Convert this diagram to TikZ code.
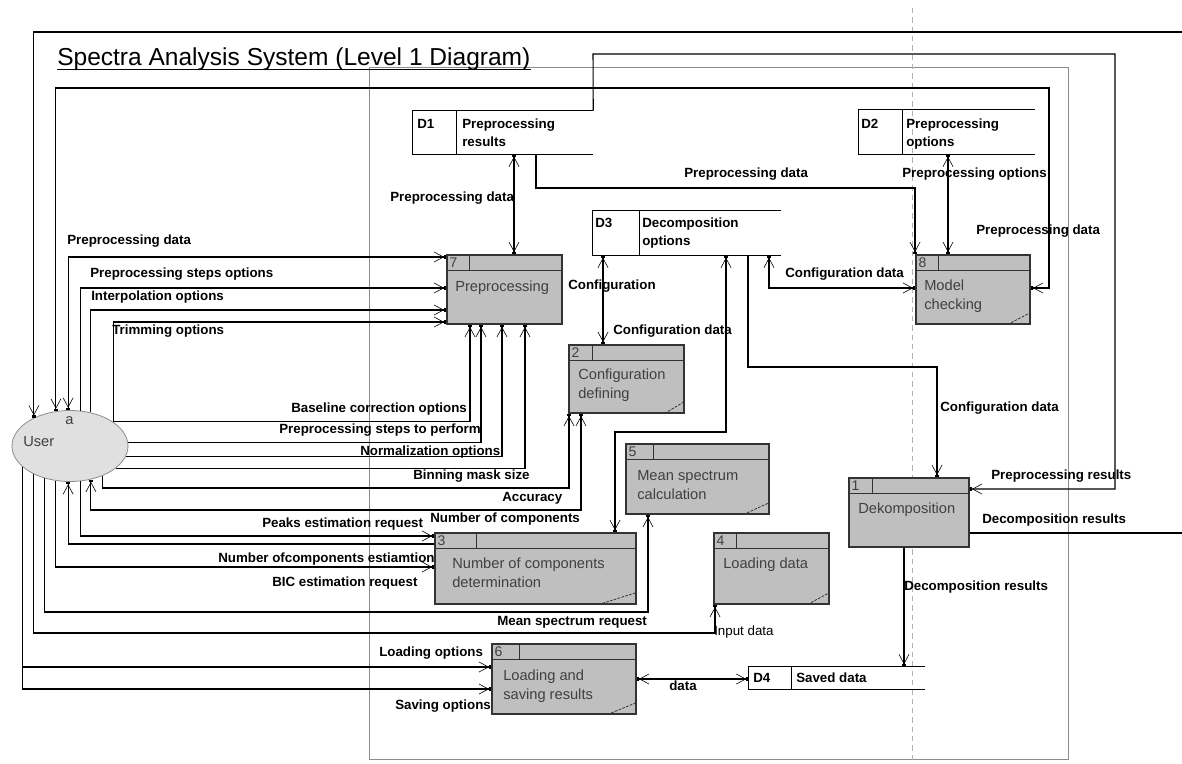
\documentclass[tikz,border=0pt]{standalone}
\usepackage{fontspec}
\setmainfont{Liberation Sans}
\usetikzlibrary{arrows.meta}
\usetikzlibrary{shapes.geometric}
\usetikzlibrary{fit}
\usetikzlibrary{calc}

\begin{document}
\begin{tikzpicture}[x=0.75pt,y=0.75pt,yscale=-1,xscale=1,
  dfd/.tip={Straight Barb[length=7pt,width=7.5pt,line width=0.45pt] Square[length=1.8pt,width=2.6pt]},
  flow/.style={line width=0.8pt,-dfd},
  flowb/.style={line width=0.8pt,dfd-dfd},
  proc/.style={draw=black!80,line width=0.8pt,fill=black!25,inner sep=0pt},
  store/.style={inner sep=0pt},
  ptext/.style={anchor=north west,inner sep=0.75pt,align=left,text=black!75,font=\fontsize{11}{14}\selectfont},
  ntext/.style={anchor=west,inner sep=0.75pt,text=black!75,font=\fontsize{10.5}{12}\selectfont},
  stext/.style={anchor=north west,inner sep=0.75pt,align=left,font=\fontsize{10}{13.5}\selectfont\bfseries},
  lbl/.style={anchor=west,inner sep=0.75pt,text height=7.2pt,text depth=2pt,font=\fontsize{10}{12}\selectfont\bfseries}
]
\useasboundingbox (0,0) rectangle (1182,764);

%Shape: Page frame
\draw[black!45,line width=0.6pt] (369,67) rectangle (1068,759);
\draw[black!30,line width=0.6pt,dash pattern=on 4pt off 3pt] (912,8) -- (912,764);

% Text Node: title
\node[anchor=base west,inner sep=0pt,font=\fontsize{18.4}{22}\selectfont] (title) at (57,65) {Spectra Analysis System (Level 1 Diagram)};
\draw[line width=0.7pt] ($(title.base west)+(0,4)$) -- ($(title.base east)+(0,4)$);

%Shape: Processes
\node[proc,fit={(447,255) (562,324)}] (P7) {};
\node[proc,fit={(569,345) (684,413)}] (P2) {};
\node[proc,fit={(626,444) (769,514)}] (P5) {};
\node[proc,fit={(435,533) (636,604)}] (P3) {};
\node[proc,fit={(714,533) (829,604)}] (P4) {};
\node[proc,fit={(849,478) (969,547)}] (P1) {};
\node[proc,fit={(916,255) (1030,324)}] (P8) {};
\node[proc,fit={(492,644) (636,714)}] (P6) {};

% headers
\foreach \p/\n/\d in {P7/7/23,P2/2/24,P5/5/28,P3/3/42,P4/4/23,P1/1/24,P8/8/23,P6/6/28}{
  \draw[black!80,line width=0.8pt] ($(\p.north west)+(0,16)$) -- ($(\p.north east)+(0,16)$)
    ($(\p.north west)+(\d,0)$) -- ($(\p.north west)+(\d,16)$);
  \node[ntext] (n\n) at ($(\p.north west)+(2,8.5)$) {\n};
}
\foreach \p/\w in {P2/20,P5/26,P3/38,P4/22,P8/23,P6/29}
  \draw[black!80,line width=0.6pt,dash pattern=on 2pt off 1pt] ($(\p.south east)+(-\w,0)$) -- ($(\p.south east)+(0,-12)$);

% Text Node: process names
\node[ptext] (t7) at (454,280) {Preprocessing};
\node[ptext] (t2) at (577,368) {Configuration\\defining};
\node[ptext] (t5) at (636,469) {Mean spectrum\\calculation};
\node[ptext] (t3) at (451,557) {Number of components\\determination};
\node[ptext] (t4) at (722,557) {Loading data};
\node[ptext] (t1) at (857,502) {Dekomposition};
\node[ptext] (t8) at (923,279) {Model\\checking};
\node[ptext] (t6) at (502,669) {Loading and\\saving results};

%Shape: Data stores
\node[store,fit={(413,111) (593,154)}] (D1) {};
\node[store,fit={(859,110) (1035,154)}] (D2) {};
\node[store,fit={(593,211) (781,255)}] (D3) {};
\node[store,fit={(749,667) (925,689)}] (D4) {};
\foreach \s/\d in {D1/44,D2/44,D3/47,D4/43}
  \draw[line width=0.8pt] (\s.north east) -- (\s.north west) -- (\s.south west) -- (\s.south east)
    ($(\s.north west)+(\d,0)$) -- ($(\s.south west)+(\d,0)$);

% Text Node: stores
\node[stext] (s1) at (416,118) {D1};
\node[stext] (s1t) at (461,118) {Preprocessing\\results};
\node[stext] (s2) at (860,118) {D2};
\node[stext] (s2t) at (905,118) {Preprocessing\\options};
\node[stext] (s3) at (594,217) {D3};
\node[stext] (s3t) at (641,217) {Decomposition\\options};
\node[stext] (s4) at (752,672) {D4};
\node[stext] (s4t) at (795,672) {Saved data};

%Shape: External entity
\node[ellipse,draw=black!45,fill=black!12,line width=0.6pt,minimum width=87pt,minimum height=53.25pt,inner sep=0pt] (User) at (70,446) {};
\node[ptext,anchor=west] (tu) at (22,442) {User};
\node[ptext,anchor=west] (ta) at (64,421) {a};

%Straight Lines: flows at the top of User
\draw[flow] (P1.east |- 0,533) -- (1195,533) -- (1195,32) -| (User.142);
\draw[flowb] (P8.east |- 0,288) -- (1049,288) -- (1049,88) -| (User.112);
\draw[flowb] (P7.west |- 0,257) -| (User.93);
\draw[flow] (User.74) |- (P7.west |- 0,288);
\draw[flow] (User.58) |- (P7.west |- 0,310);
\draw[flow] (User.29) |- (P7.west |- 0,322);

%Straight Lines: flows at the right of User
\draw[flow] (User.29) -| (P7.south -| 470,0);
\draw[flow] (User.3) -| (P7.south -| 481,0);
\draw[flow] (User.349) -| (P7.south -| 502,0);
\draw[flow] (User.334) -| (P7.south -| 525,0);

%Straight Lines: flows at the bottom of User
\draw[flow] (User.317) |- (569,488) -- (P2.south -| 569,0);
\draw[flowb] (P2.south -| 581,0) -- (581,510) -| (User.302);
\draw[flow] (User.286) |- (P3.west |- 0,536);
\draw[flow] (P3.west |- 0,544) -| (User.267);
\draw[flow] (User.248) |- (P3.west |- 0,567);
\draw[flow] (User.232) |- (648,612) -- (P5.south -| 648,0);
\draw[flow] (User.218) |- (715,633) -- (P4.south -| 715,0);
\draw[flow] (User.204) |- (P6.west |- 0,667);
\draw[flow] (User.204) |- (P6.west |- 0,689);

%Straight Lines: flows between processes and stores
\draw[flowb] (P6.east |- 0,679) -- (D4.west |- 0,679);
\draw[flow] (P1.south -| 904,0) -- (D4.north -| 904,0);
\draw[flow] (D1.north east) -- (593,54) -- (1115,54) |- (P1.east |- 0,489);
\draw[flowb] (D1.south -| 514,0) -- (P7.north -| 514,0);
\draw[flow] (D1.south -| 536,0) |- (915,188) -- (P8.north -| 915,0);
\draw[flowb] (D2.south -| 948,0) -- (P8.north -| 948,0);
\draw[flowb] (D3.south -| 603,0) -- (P2.north -| 603,0);
\draw[flowb] (D3.south -| 726,0) |- (615,432) -- (P3.north -| 615,0);
\draw[flow] (D3.south -| 748,0) |- (937,367) -- (P1.north -| 937,0);
\draw[flowb] (D3.south -| 769,0) |- (P8.west |- 0,288);

% Text Node: flow labels
\node[lbl] (l1) at (66,241) {Preprocessing data};
\node[lbl] (l2) at (89,274) {Preprocessing steps options};
\node[lbl] (l3) at (90,297) {Interpolation options};
\node[lbl] (l4) at (111,331) {Trimming options};
\node[lbl] (l5) at (290,409) {Baseline correction options};
\node[lbl] (l6) at (278,430) {Preprocessing steps to perform};
\node[lbl] (l7) at (359,452) {Normalization options};
\node[lbl] (l8) at (412,476) {Binning mask size};
\node[lbl] (l9) at (501,498) {Accuracy};
\node[lbl] (l10) at (429,519) {Number of components};
\node[lbl] (l11) at (261,524) {Peaks estimation request};
\node[lbl] (l12) at (217,559) {Number ofcomponents estiamtion};
\node[lbl] (l13) at (271,583) {BIC estimation request};
\node[lbl] (l14) at (496,622) {Mean spectrum request};
\node[lbl,font=\fontsize{10}{12}\selectfont] (l15) at (713,632) {Input data};
\node[lbl] (l16) at (378,653) {Loading options};
\node[lbl] (l17) at (394,706) {Saving options};
\node[lbl] (l18) at (668,687) {data};
\node[lbl] (l19) at (903,587) {Decomposition results};
\node[lbl] (l20) at (981,520) {Decomposition results};
\node[lbl] (l21) at (990,476) {Preprocessing results};
\node[lbl] (l22) at (939,408) {Configuration data};
\node[lbl] (l23) at (784,274) {Configuration data};
\node[lbl] (l24) at (567,286) {Configuration};
\node[lbl] (l25) at (612,331) {Configuration data};
\node[lbl] (l26) at (389,198) {Preprocessing data};
\node[lbl] (l27) at (683,174) {Preprocessing data};
\node[lbl] (l28) at (901,174) {Preprocessing options};
\node[lbl] (l29) at (975,231) {Preprocessing data};

\end{tikzpicture}
\end{document}
